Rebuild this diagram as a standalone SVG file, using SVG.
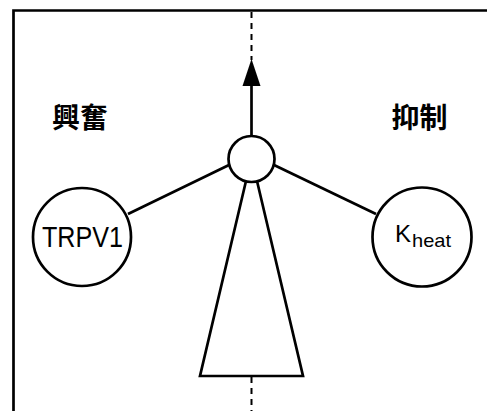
<svg xmlns="http://www.w3.org/2000/svg" width="487" height="411" viewBox="0 0 487 411">
<style>
.ln{stroke:#000;stroke-width:2.7;fill:none}
.nd{stroke:#000;stroke-width:2.7;fill:#fff}
.dash{stroke:#000;stroke-width:2;stroke-dasharray:6 5;fill:none}
.cjk{font-family:"Noto Sans CJK TC","Noto Sans CJK SC",sans-serif;font-weight:bold;font-size:28px;fill:#000;text-anchor:middle}
.lat{font-family:"Liberation Sans",Arial,sans-serif;fill:#000}
</style>
<rect width="487" height="411" fill="#fff"/>
<g id="frame">
<path class="ln" d="M13.5,411 V10.5 H487"/>
</g>
<g id="connectors">
<line class="dash" x1="251.5" y1="12" x2="251.5" y2="60"/>
<line class="dash" x1="251.5" y1="377" x2="251.5" y2="411"/>
<line class="ln" x1="251.5" y1="136" x2="251.5" y2="85"/>
<polygon points="251.5,59 242.5,86 260.5,86" fill="#000"/>
<line class="ln" x1="128" y1="214" x2="229" y2="165"/>
<line class="ln" x1="274" y1="165" x2="376" y2="214"/>
</g>
<g id="cone">
<polyline class="ln" points="246,181 200,376 303,376 257,181"/>
</g>
<g id="hub">
<circle class="nd" cx="251.5" cy="159" r="23"/>
</g>
<g id="trpv1">
<circle class="nd" cx="82" cy="237" r="49"/>
<text class="lat" x="42" y="247" font-size="29" textLength="81" lengthAdjust="spacingAndGlyphs">TRPV1</text>
</g>
<g id="kheat">
<circle class="nd" cx="422" cy="237" r="49.5"/>
<text class="lat" x="395" y="241.5" font-size="24">K<tspan x="412" y="247" font-size="19" textLength="39" lengthAdjust="spacingAndGlyphs">heat</tspan></text>
</g>
<g id="label-excite">
<text class="cjk" x="80" y="128">興奮</text>
</g>
<g id="label-inhibit">
<text class="cjk" x="419.5" y="128">抑制</text>
</g>
</svg>
